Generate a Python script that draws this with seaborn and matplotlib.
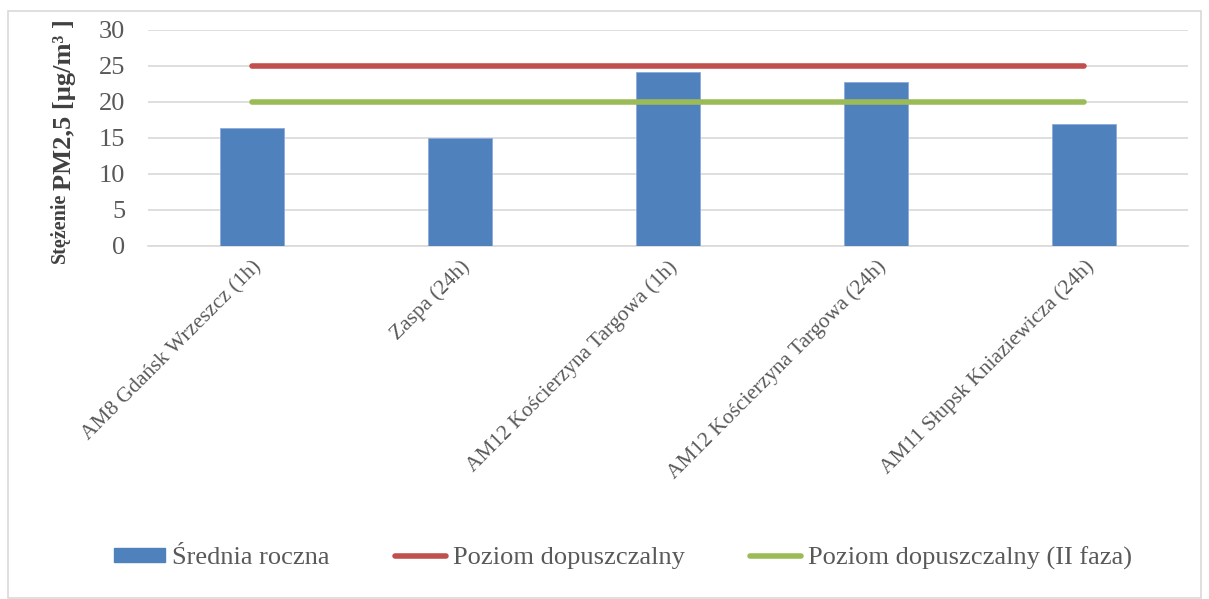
import numpy as np
import pandas as pd
import matplotlib
matplotlib.use("Agg")
import matplotlib.pyplot as plt
from matplotlib.patches import Patch, Rectangle
from matplotlib.lines import Line2D
import seaborn as sns

# Stations and annual mean PM2.5 concentration
stations = [
    "AM8 Gdańsk Wrzeszcz (1h)",
    "Zaspa (24h)",
    "AM12 Kościerzyna Targowa (1h)",
    "AM12 Kościerzyna Targowa (24h)",
    "AM11 Słupsk Kniaziewicza (24h)",
]
annual_mean = [16.4, 15.0, 24.2, 22.8, 16.9]
limit_value = [25, 25, 25, 25, 25]
limit_value_phase2 = [20, 20, 20, 20, 20]
y_ticks = [0, 5, 10, 15, 20, 25, 30]

series_labels = ["Średnia roczna", "Poziom dopuszczalny", "Poziom dopuszczalny (II faza)"]

BLUE = "#4F81BD"
RED = "#C0504D"
GREEN = "#9BBB59"
GRID = "#D9D9D9"
TEXT = "#595959"

sns.set_theme(style="white")
plt.rcParams["font.family"] = ["Liberation Serif", "DejaVu Serif"]

df = pd.DataFrame({"station": stations, "mean": annual_mean,
                   "limit": limit_value, "limit2": limit_value_phase2})

fig = plt.figure(figsize=(12.09, 5.99), dpi=100)
ax = fig.add_axes([148 / 1209, 1 - 246 / 599, 1040 / 1209, 216 / 599])

sns.barplot(data=df, x="station", y="mean", color=BLUE, saturation=1,
            width=0.31, ax=ax, zorder=3)
for p in ax.patches:
    p.set_edgecolor("#8EAADB")
    p.set_linewidth(0.6)

pos = np.arange(len(stations))
sns.lineplot(x=pos, y=df["limit"].to_numpy(), color=RED, linewidth=4,
             solid_capstyle="round", ax=ax, zorder=4)
sns.lineplot(x=pos, y=df["limit2"].to_numpy(), color=GREEN, linewidth=4,
             solid_capstyle="round", ax=ax, zorder=4)

ax.set_xlim(-0.5, len(stations) - 0.5)
ax.set_ylim(0, 30)
ax.set_yticks(y_ticks)
ax.yaxis.grid(True, color=GRID, linewidth=1.2, zorder=0)
ax.set_axisbelow(True)
for s in ["top", "right", "left"]:
    ax.spines[s].set_visible(False)
ax.spines["bottom"].set_color(GRID)
ax.spines["bottom"].set_linewidth(1.2)
ax.tick_params(axis="y", length=0, pad=16.5, labelsize=19, labelcolor=TEXT)
ax.tick_params(axis="x", length=0, pad=8, labelcolor=TEXT)
ax.set_xticks(pos)
ax.set_xticklabels(stations, rotation=45, ha="right", rotation_mode="anchor",
                   fontsize=15.5)
ax.set_xlabel("")
ax.set_ylabel("")

# Axis title in two pieces of different size
fig.text(60 / 1209, 1 - 263 / 599, "Stężenie", rotation=90, ha="center",
         va="bottom", fontsize=14.5, fontweight="bold", color="#404040")
fig.text(64 / 1209, 1 - 190 / 599, "PM2,5 [µg/m³ ]", rotation=90, ha="center",
         va="bottom", fontsize=19, fontweight="bold", color="#404040")

handles = [
    Patch(facecolor=BLUE, edgecolor=BLUE),
    Line2D([0], [0], color=RED, linewidth=4, solid_capstyle="round"),
    Line2D([0], [0], color=GREEN, linewidth=4, solid_capstyle="round"),
]
fig.legend(handles, series_labels, loc="center", bbox_to_anchor=(623 / 1209, 1 - 558 / 599),
           ncol=3, frameon=False, fontsize=19, handlelength=1.95, handleheight=0.45,
           handletextpad=0.27, columnspacing=2.45, labelcolor=TEXT,
           borderpad=0, borderaxespad=0)

# Chart area border
fig.patches.append(Rectangle((8 / 1209, 0.002), 1 - 16 / 1209, 1 - 12 / 599,
                             transform=fig.transFigure, fill=False,
                             edgecolor=GRID, linewidth=1.2))

fig.savefig("out.png", dpi=100)
